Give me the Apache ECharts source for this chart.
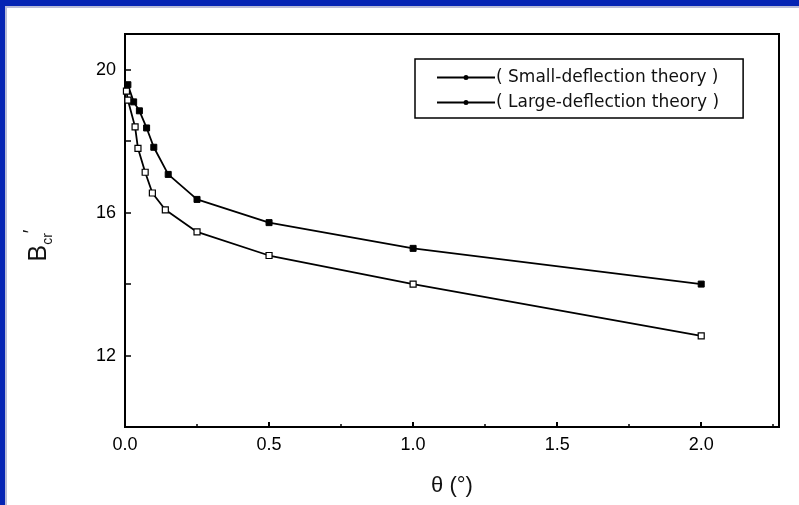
<!DOCTYPE html>
<html>
<head>
<meta charset="utf-8">
<script src="https://cdn.jsdelivr.net/npm/echarts@6/dist/echarts.min.js"></script>
<style>
html,body{margin:0;padding:0;background:#fff;}
#c{width:799px;height:505px;}
</style>
</head>
<body>
<div id="c"></div>
<script>
// Data
const smallX = [0.01, 0.03, 0.05, 0.075, 0.10, 0.15, 0.25, 0.5, 1.0, 2.0];
const smallY = [19.58, 19.10, 18.85, 18.37, 17.83, 17.07, 16.37, 15.72, 15.00, 14.00];
const largeX = [0.005, 0.01, 0.035, 0.045, 0.07, 0.095, 0.14, 0.25, 0.5, 1.0, 2.0];
const largeY = [19.40, 19.15, 18.40, 17.80, 17.13, 16.55, 16.08, 15.46, 14.80, 14.00, 12.55];
const seriesNames = ['( Small-deflection theory )', '( Large-deflection theory )'];
const xTickLabels = ['0.0', '0.5', '1.0', '1.5', '2.0'];
const yTickLabels = ['12', '16', '20'];

const font = '"Liberation Sans", Arial, sans-serif';
const legendFont = '"DejaVu Sans", sans-serif';
const legendIcon = 'path://M0,3 L58,3 L58,5 L0,5 Z M31.5,4 A2.5,2.5 0 1 1 26.5,4 A2.5,2.5 0 1 1 31.5,4 Z';
const chart = echarts.init(document.getElementById('c'));
const pairs = (xs, ys) => xs.map((x, i) => [x, ys[i]]);

chart.setOption({
  animation: false,
  backgroundColor: '#fff',
  graphic: [
    { type: 'rect', left: 0, top: 0, shape: { width: 799, height: 6 }, style: { fill: '#0524b4' }, z: 100 },
    { type: 'rect', left: 0, top: 6, shape: { width: 799, height: 2 }, style: { fill: '#b8bcd8' }, z: 100 },
    { type: 'rect', left: 0, top: 0, shape: { width: 5, height: 505 }, style: { fill: '#0524b4' }, z: 100 },
    { type: 'rect', left: 5, top: 6, shape: { width: 2, height: 499 }, style: { fill: '#b8bcd8' }, z: 100 }
  ],
  grid: {
    left: 125, right: 20, top: 34, bottom: 78,
    show: true, borderColor: '#000', borderWidth: 2, backgroundColor: 'transparent'
  },
  legend: {
    left: 415, top: 59,
    orient: 'vertical',
    padding: [10, 24, 7, 22],
    itemGap: 8,
    itemWidth: 58,
    itemHeight: 5,
    borderColor: '#000', borderWidth: 1.5,
    textStyle: { fontFamily: legendFont, fontSize: 17, color: '#111', padding: [0, 0, 0, -4] },
    data: [
      { name: seriesNames[0], icon: legendIcon, itemStyle: { color: '#000', borderWidth: 0 } },
      { name: seriesNames[1], icon: legendIcon, itemStyle: { color: '#000', borderWidth: 0 } }
    ]
  },
  xAxis: {
    type: 'value',
    min: 0, max: 2.27, interval: 0.5,
    name: 'θ (°)',
    nameLocation: 'middle',
    nameGap: 48,
    nameTextStyle: { fontFamily: font, fontSize: 22, color: '#111' },
    axisLine: { show: true, onZero: false, lineStyle: { color: '#000', width: 2 } },
    axisTick: { show: true, inside: true, length: 5, lineStyle: { color: '#000', width: 2 } },
    minorTick: { show: true, splitNumber: 2, length: 3, lineStyle: { color: '#000', width: 1.5 } },
    splitLine: { show: false },
    axisLabel: {
      showMaxLabel: false,
      margin: 9,
      fontFamily: font, fontSize: 18, color: '#000',
      formatter: v => {
        const i = Math.round(v / 0.5);
        return Math.abs(v - i * 0.5) < 1e-6 && xTickLabels[i] !== undefined ? xTickLabels[i] : '';
      }
    }
  },
  yAxis: {
    type: 'value',
    min: 10, max: 21, interval: 2,
    name: '{b|B}{s|cr}{p|′}',
    nameLocation: 'middle',
    nameRotate: 90,
    nameGap: 68,
    nameTextStyle: {
      padding: [0, 30, 0, 0],
      rich: {
        b: { fontFamily: font, fontSize: 25, color: '#111', lineHeight: 36, verticalAlign: 'middle' },
        s: { fontFamily: font, fontSize: 14, color: '#111', lineHeight: 36, verticalAlign: 'bottom', padding: [0, 0, 2, 0] },
        p: { fontFamily: font, fontSize: 20, color: '#111', lineHeight: 36, verticalAlign: 'top' }
      }
    },
    axisLine: { show: true, onZero: false, lineStyle: { color: '#000', width: 2 } },
    axisTick: { show: true, inside: true, length: 6, lineStyle: { color: '#000', width: 1.5 } },
    splitLine: { show: false },
    axisLabel: {
      showMaxLabel: false,
      margin: 9,
      fontFamily: font, fontSize: 18, color: '#000',
      formatter: v => {
        const s = String(Math.round(v));
        return Math.round(v) % 4 === 0 && yTickLabels.indexOf(s) >= 0 ? s : '';
      }
    }
  },
  series: [
    {
      name: seriesNames[0],
      type: 'line',
      data: pairs(smallX, smallY),
      symbol: 'rect', symbolSize: 6,
      lineStyle: { color: '#000', width: 1.8 },
      itemStyle: { color: '#000', borderColor: '#000', borderWidth: 1 }
    },
    {
      name: seriesNames[1],
      type: 'line',
      data: pairs(largeX, largeY),
      symbol: 'rect', symbolSize: 6,
      lineStyle: { color: '#000', width: 1.8 },
      itemStyle: { color: '#fff', borderColor: '#000', borderWidth: 1.2 }
    }
  ]
});
</script>
</body>
</html>
